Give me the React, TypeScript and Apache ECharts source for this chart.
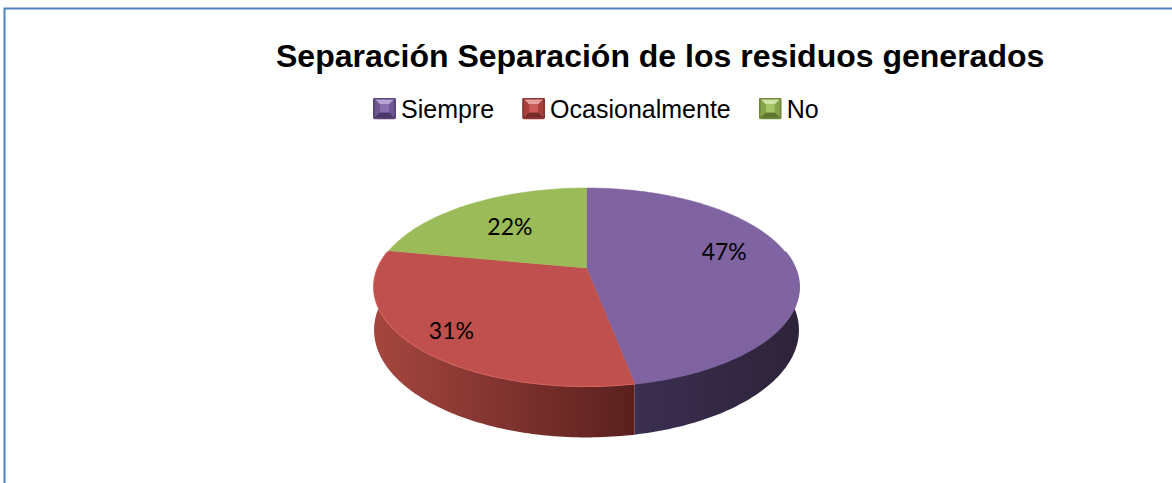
import React, { useEffect, useRef } from "react";
import * as echarts from "echarts";

const TITLE = "Separación Separación de los residuos generados";
const CATEGORIES = ["Siempre", "Ocasionalmente", "No"];
const VALUES = [47, 31, 22];

// styles
const TOP_COLORS = ["#8064a2", "#c0504d", "#9bbb59"];
const WALL_COLORS = [
  ["#3b2f51", "#2d2339"],
  ["#a6463f", "#5a201e"],
  ["#7d9a45", "#4d6128"],
];
const RIM_COLORS = ["#7a659a", "#dc6e68", "#b5cf80"];
const ICON_COLORS = [
  { outer: "#5a4478", top: "#b6a2d3", side: "#6e5792", bottom: "#4a3766", center: "#8a6fb0" },
  { outer: "#8e3532", top: "#e6a09d", side: "#a8413e", bottom: "#772c29", center: "#cc5a57" },
  { outer: "#6f8a3a", top: "#cfe3a6", side: "#86a449", bottom: "#5d7530", center: "#a6c765" },
];
// label placement (fraction of radius, angular nudge in degrees)
const LABEL_RADIUS = [0.71, 0.815, 0.63];
const LABEL_ANGLE_SHIFT = [-10, 0, 0];

// 3D pie geometry (perspective projection of a disk)
const CX = 586.5;
const CY = 268;
const RX = 208.5;
const RY = 95.4;
const PERSP = 0.192;
const DEPTH = 41.5;
const WALL_FROM = 80;
const WALL_TO = 280;

function project(phiDeg: number, r: number, drop = 0): [number, number] {
  const phi = (phiDeg * Math.PI) / 180;
  const X = r * Math.sin(phi);
  const Y = -r * Math.cos(phi);
  const w = 1 / (1 - PERSP * Y);
  return [CX + RX * X * w, CY + RY * Y * w + drop * w];
}

function arc(a: number, b: number, drop = 0): [number, number][] {
  const pts: [number, number][] = [];
  const n = Math.max(2, Math.ceil(Math.abs(b - a) / 1) + 1);
  for (let k = 0; k < n; k++) {
    const t = a + ((b - a) * k) / (n - 1);
    pts.push(project(t, 1, drop));
  }
  return pts;
}

function iconUrl(i: number) {
  const c = ICON_COLORS[i];
  const svg =
    `<svg xmlns='http://www.w3.org/2000/svg' width='23' height='22' viewBox='0 0 23 22'>` +
    `<rect x='0' y='0' width='23' height='22' rx='2.5' fill='${c.outer}'/>` +
    `<polygon points='2,2 21,2 16,7 7,7' fill='${c.top}'/>` +
    `<polygon points='2,2 7,7 7,15 2,20' fill='${c.side}'/>` +
    `<polygon points='21,2 16,7 16,15 21,20' fill='${c.side}'/>` +
    `<polygon points='2,20 7,15 16,15 21,20' fill='${c.bottom}'/>` +
    `<rect x='7' y='7' width='9' height='8' fill='${c.center}'/>` +
    `</svg>`;
  return "image://data:image/svg+xml;charset=utf-8," + encodeURIComponent(svg);
}

export default function App() {
  const ref = useRef<HTMLDivElement>(null);
  useEffect(() => {
    if (!ref.current) return;
    const chart = echarts.init(ref.current, undefined, { renderer: "svg" });
    const total = VALUES.reduce((s, v) => s + v, 0);
    const starts: number[] = [];
    let acc = 0;
    VALUES.forEach((v) => {
      starts.push((acc / total) * 360);
      acc += v;
    });

    const series = CATEGORIES.map((name, i) => ({
      type: "custom",
      name,
      coordinateSystem: "none",
      itemStyle: { color: TOP_COLORS[i] },
      data: [[VALUES[i]]],
      renderItem: (params: any, api: any) => {
        const v = api.value(0);
        const start = starts[i];
        const end = start + (v / total) * 360;
        const children: any[] = [];
        const lo = Math.max(start, WALL_FROM);
        const hi = Math.min(end, WALL_TO);
        if (hi > lo) {
          const topEdge = arc(lo, hi, 0);
          const bottomEdge = arc(hi, lo, DEPTH);
          children.push({
            type: "polygon",
            z2: 1,
            shape: { points: topEdge.concat(bottomEdge) },
            style: {
              fill: {
                type: "linear",
                x: 0,
                y: 0,
                x2: 1,
                y2: 0,
                colorStops: [
                  { offset: 0, color: WALL_COLORS[i][0] },
                  { offset: 1, color: WALL_COLORS[i][1] },
                ],
              },
              stroke: null,
            },
          });
          children.push({
            type: "polyline",
            z2: 2,
            shape: { points: topEdge },
            style: { stroke: RIM_COLORS[i], lineWidth: 2, fill: null },
          });
        }
        const topPts: [number, number][] = [[CX, CY]];
        arc(start, end, 0).forEach((p) => topPts.push(p));
        children.push({
          type: "polygon",
          z2: 10,
          shape: { points: topPts },
          style: { fill: TOP_COLORS[i], stroke: TOP_COLORS[i], lineWidth: 0.5 },
        });
        const mid = (start + end) / 2 + LABEL_ANGLE_SHIFT[i];
        const [lx, ly] = project(mid, LABEL_RADIUS[i], 0);
        children.push({
          type: "text",
          z2: 20,
          style: {
            text: Math.round((v / total) * 100) + "%",
            x: lx,
            y: ly,
            align: "center",
            verticalAlign: "middle",
            fill: "#000000",
            fontSize: 23,
            fontFamily: "Lato, 'Open Sans', sans-serif",
          },
        });
        return { type: "group", children };
      },
    }));

    chart.setOption({
      animation: false,
      backgroundColor: "#ffffff",
      title: {
        text: TITLE,
        left: 276,
        top: 40,
        padding: 0,
        textStyle: {
          fontSize: 32,
          fontWeight: "bold",
          fontFamily: "'Liberation Sans', Arial, sans-serif",
          color: "#000000",
        },
      },
      legend: {
        left: 373,
        top: 96,
        padding: 0,
        itemWidth: 23,
        itemHeight: 22,
        itemGap: 28,
        selectedMode: false,
        textStyle: {
          fontSize: 25,
          fontFamily: "'Liberation Sans', Arial, sans-serif",
          color: "#000000",
        },
        data: CATEGORIES.map((n, i) => ({ name: n, icon: iconUrl(i) })),
      },
      graphic: [
        {
          type: "rect",
          left: 2,
          top: 6,
          shape: { width: 1300, height: 600 },
          style: { fill: null, stroke: "#4f81bd", lineWidth: 2 },
          silent: true,
        },
      ],
      series,
    });
    return () => chart.dispose();
  }, []);
  return (
    <div
      ref={ref}
      style={{ position: "absolute", left: 0, top: 0, width: 1172, height: 483 }}
    />
  );
}
